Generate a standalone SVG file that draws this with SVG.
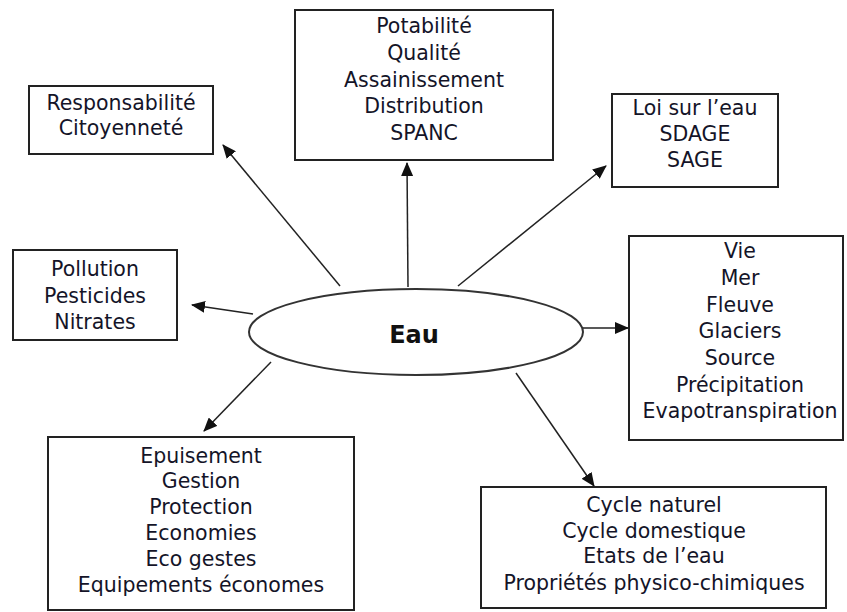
<svg xmlns="http://www.w3.org/2000/svg" width="847" height="612" viewBox="0 0 847 612">
<style>
.box{fill:#fff;stroke:#222;stroke-width:2}
.t{font-family:"DejaVu Sans",sans-serif;font-size:20.5px;fill:#141428;text-anchor:middle}
.c{stroke:#222;stroke-width:1.5;fill:none;marker-end:url(#ah)}
</style>
<defs>
<marker id="ah" markerWidth="14" markerHeight="12" refX="13" refY="6" orient="auto" markerUnits="userSpaceOnUse">
<path d="M0,0 L14,6 L0,12 Z" fill="#111"/>
</marker>
</defs>
<rect width="847" height="612" fill="#fff"/>
<g id="connectors">
<line class="c" x1="340" y1="286" x2="223" y2="145"/>
<line class="c" x1="408" y1="287" x2="407" y2="163"/>
<line class="c" x1="458" y1="286" x2="606" y2="166"/>
<line class="c" x1="583" y1="328" x2="628" y2="328"/>
<line class="c" x1="253" y1="314" x2="192" y2="305"/>
<line class="c" x1="271" y1="362" x2="204" y2="431"/>
<line class="c" x1="516" y1="373" x2="594" y2="486"/>
</g>
<g id="eau">
<ellipse cx="416" cy="332" rx="167" ry="43" fill="#fff" stroke="#333" stroke-width="2"/>
<text x="414" y="343" font-family="DejaVu Sans, sans-serif" font-size="24" font-weight="bold" text-anchor="middle" fill="#111">Eau</text>
</g>
<g id="responsabilite">
<rect class="box" x="29" y="86" width="184" height="68"/>
<text class="t" x="121" y="110">Responsabilité</text>
<text class="t" x="121" y="135">Citoyenneté</text>
</g>
<g id="potabilite">
<rect class="box" x="295" y="10" width="258" height="150"/>
<text class="t" x="424" y="33">Potabilité</text>
<text class="t" x="424" y="60">Qualité</text>
<text class="t" x="424" y="87">Assainissement</text>
<text class="t" x="424" y="113">Distribution</text>
<text class="t" x="424" y="140">SPANC</text>
</g>
<g id="loi">
<rect class="box" x="612" y="94" width="166" height="93"/>
<text class="t" x="695" y="115">Loi sur l’eau</text>
<text class="t" x="695" y="141">SDAGE</text>
<text class="t" x="695" y="167">SAGE</text>
</g>
<g id="vie">
<rect class="box" x="629" y="236" width="214" height="204"/>
<text class="t" x="740" y="258">Vie</text>
<text class="t" x="740" y="285">Mer</text>
<text class="t" x="740" y="312">Fleuve</text>
<text class="t" x="740" y="338">Glaciers</text>
<text class="t" x="740" y="365">Source</text>
<text class="t" x="740" y="392">Précipitation</text>
<text class="t" x="740" y="418">Evapotranspiration</text>
</g>
<g id="pollution">
<rect class="box" x="13" y="250" width="164" height="90"/>
<text class="t" x="95" y="276">Pollution</text>
<text class="t" x="95" y="303">Pesticides</text>
<text class="t" x="95" y="329">Nitrates</text>
</g>
<g id="epuisement">
<rect class="box" x="48" y="437" width="306" height="173"/>
<text class="t" x="201" y="463">Epuisement</text>
<text class="t" x="201" y="488">Gestion</text>
<text class="t" x="201" y="514">Protection</text>
<text class="t" x="201" y="540">Economies</text>
<text class="t" x="201" y="566">Eco gestes</text>
<text class="t" x="201" y="592">Equipements économes</text>
</g>
<g id="cycle">
<rect class="box" x="481" y="487" width="345" height="121"/>
<text class="t" x="654" y="512">Cycle naturel</text>
<text class="t" x="654" y="538">Cycle domestique</text>
<text class="t" x="654" y="563">Etats de l’eau</text>
<text class="t" x="654" y="590">Propriétés physico-chimiques</text>
</g>
</svg>
